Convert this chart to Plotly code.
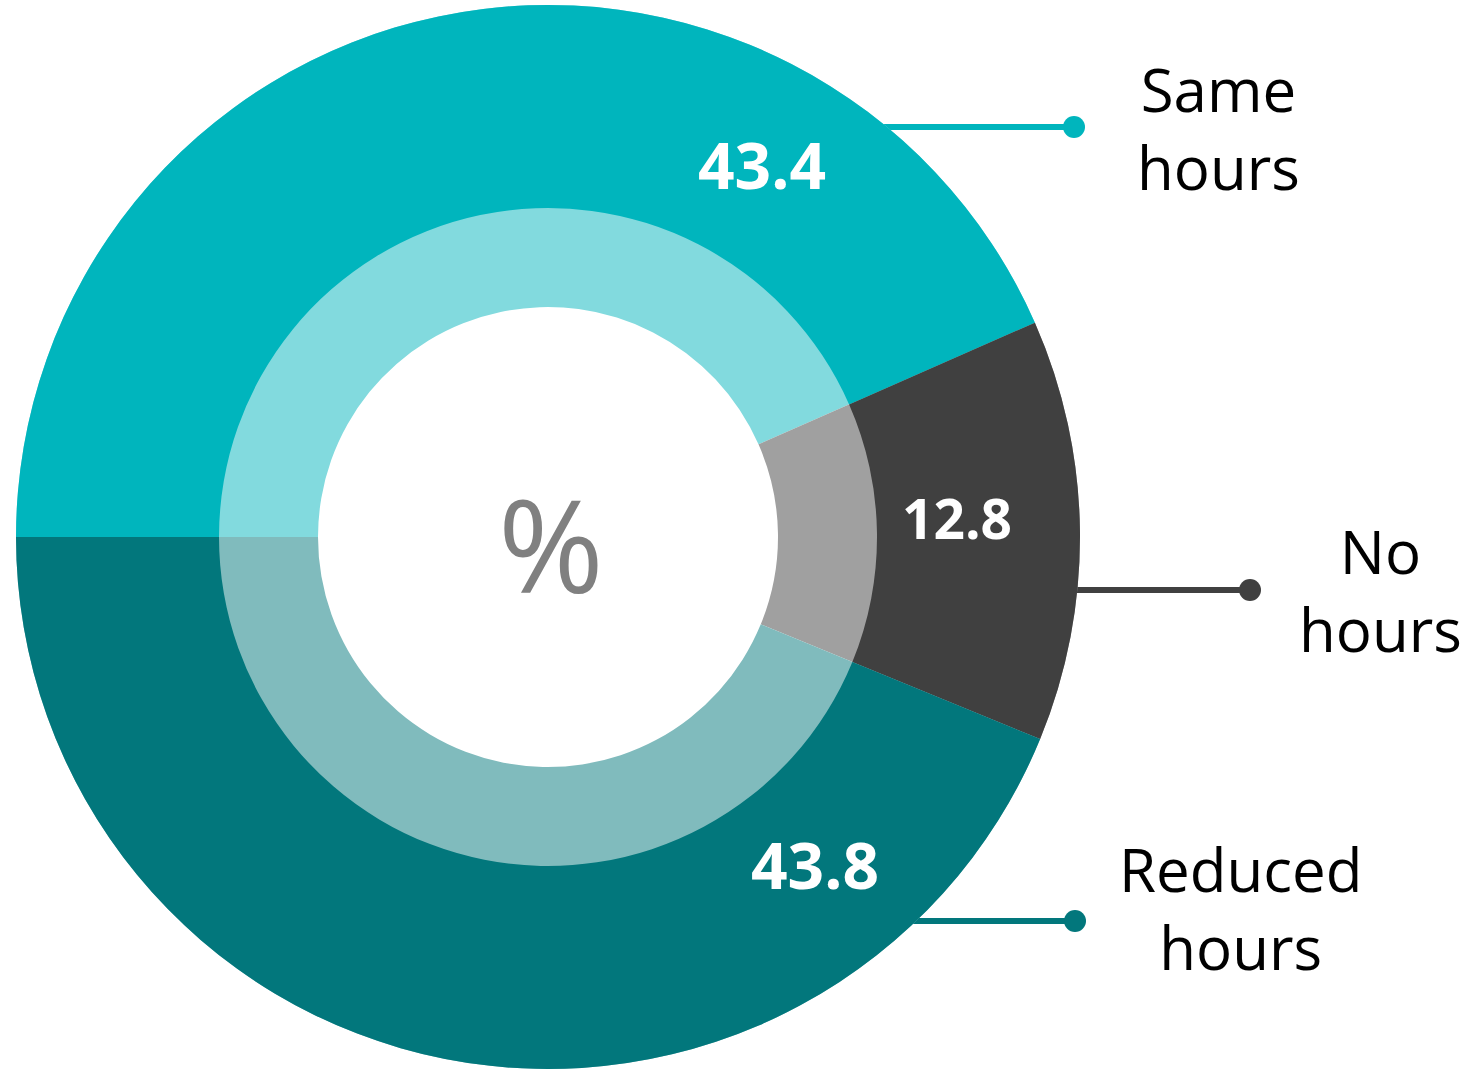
import plotly.graph_objects as go

# Share of workers by change in hours (%)
categories = ["Same hours", "No hours", "Reduced hours"]
values = [43.4, 12.8, 43.8]
label_lines = [["Same", "hours"], ["No", "hours"], ["Reduced", "hours"]]

outer_colors = ["#00B5BD", "#404040", "#02777C"]
inner_colors = ["#82DADE", "#A0A0A0", "#80BBBD"]

W, H = 1466, 1070
CX, CY, R = 548, 537, 532


def px(x):
    return x / W


def py(y):
    return 1 - y / H


domain = dict(x=[px(CX - R), px(CX + R)], y=[py(CY + R), py(CY - R)])

fig = go.Figure()

# inner pale ring
fig.add_trace(go.Pie(
    labels=categories, values=values, sort=False,
    direction="clockwise", rotation=-90, hole=230 / R,
    marker=dict(colors=inner_colors, line=dict(width=0)),
    textinfo="none", hoverinfo="skip", domain=domain, showlegend=False,
))
# outer solid ring
fig.add_trace(go.Pie(
    labels=categories, values=values, sort=False,
    direction="clockwise", rotation=-90, hole=329 / R,
    marker=dict(colors=outer_colors, line=dict(width=0)),
    textinfo="none", hoverinfo="skip", domain=domain, showlegend=False,
))

# value labels inside the outer ring
value_pos = [(762, 165, 64), (957, 517, 55), (815, 864, 64)]
annotations = []
for v, (x, y, s) in zip(values, value_pos):
    annotations.append(dict(
        x=px(x), y=py(y), xref="paper", yref="paper",
        text=f"<b>{v:.1f}</b>", showarrow=False,
        font=dict(family="Open Sans", size=s, color="white"),
        xanchor="center", yanchor="middle",
    ))

# centre symbol
annotations.append(dict(
    x=px(551), y=py(543), xref="paper", yref="paper", text="%",
    showarrow=False, font=dict(family="Open Sans", size=128, color="#808080"),
    xanchor="center", yanchor="middle",
))

# category labels with leader lines
label_pos = [(1218, 128), (1380, 590), (1240, 908)]
leaders = [(860, 1074, 127), (1060, 1250, 590), (890, 1075, 921)]
shapes = []
for lines, (lx, ly), (x0, x1, y), col in zip(label_lines, label_pos, leaders, outer_colors):
    annotations.append(dict(
        x=px(lx), y=py(ly), xref="paper", yref="paper",
        text="<br>".join(lines), showarrow=False, align="center",
        font=dict(family="Open Sans", size=60, color="black"),
        xanchor="center", yanchor="middle",
    ))
    shapes.append(dict(
        type="line", xref="paper", yref="paper", layer="below",
        x0=px(x0), x1=px(x1), y0=py(y), y1=py(y),
        line=dict(color=col, width=6),
    ))
    shapes.append(dict(
        type="circle", xref="paper", yref="paper", layer="above",
        x0=px(x1 - 11), x1=px(x1 + 11), y0=py(y + 11), y1=py(y - 11),
        fillcolor=col, line=dict(width=0),
    ))

fig.update_layout(
    width=W, height=H,
    margin=dict(l=0, r=0, t=0, b=0),
    paper_bgcolor="white", plot_bgcolor="white",
    annotations=annotations, shapes=shapes,
    showlegend=False,
)

fig.write_html("out.html")
